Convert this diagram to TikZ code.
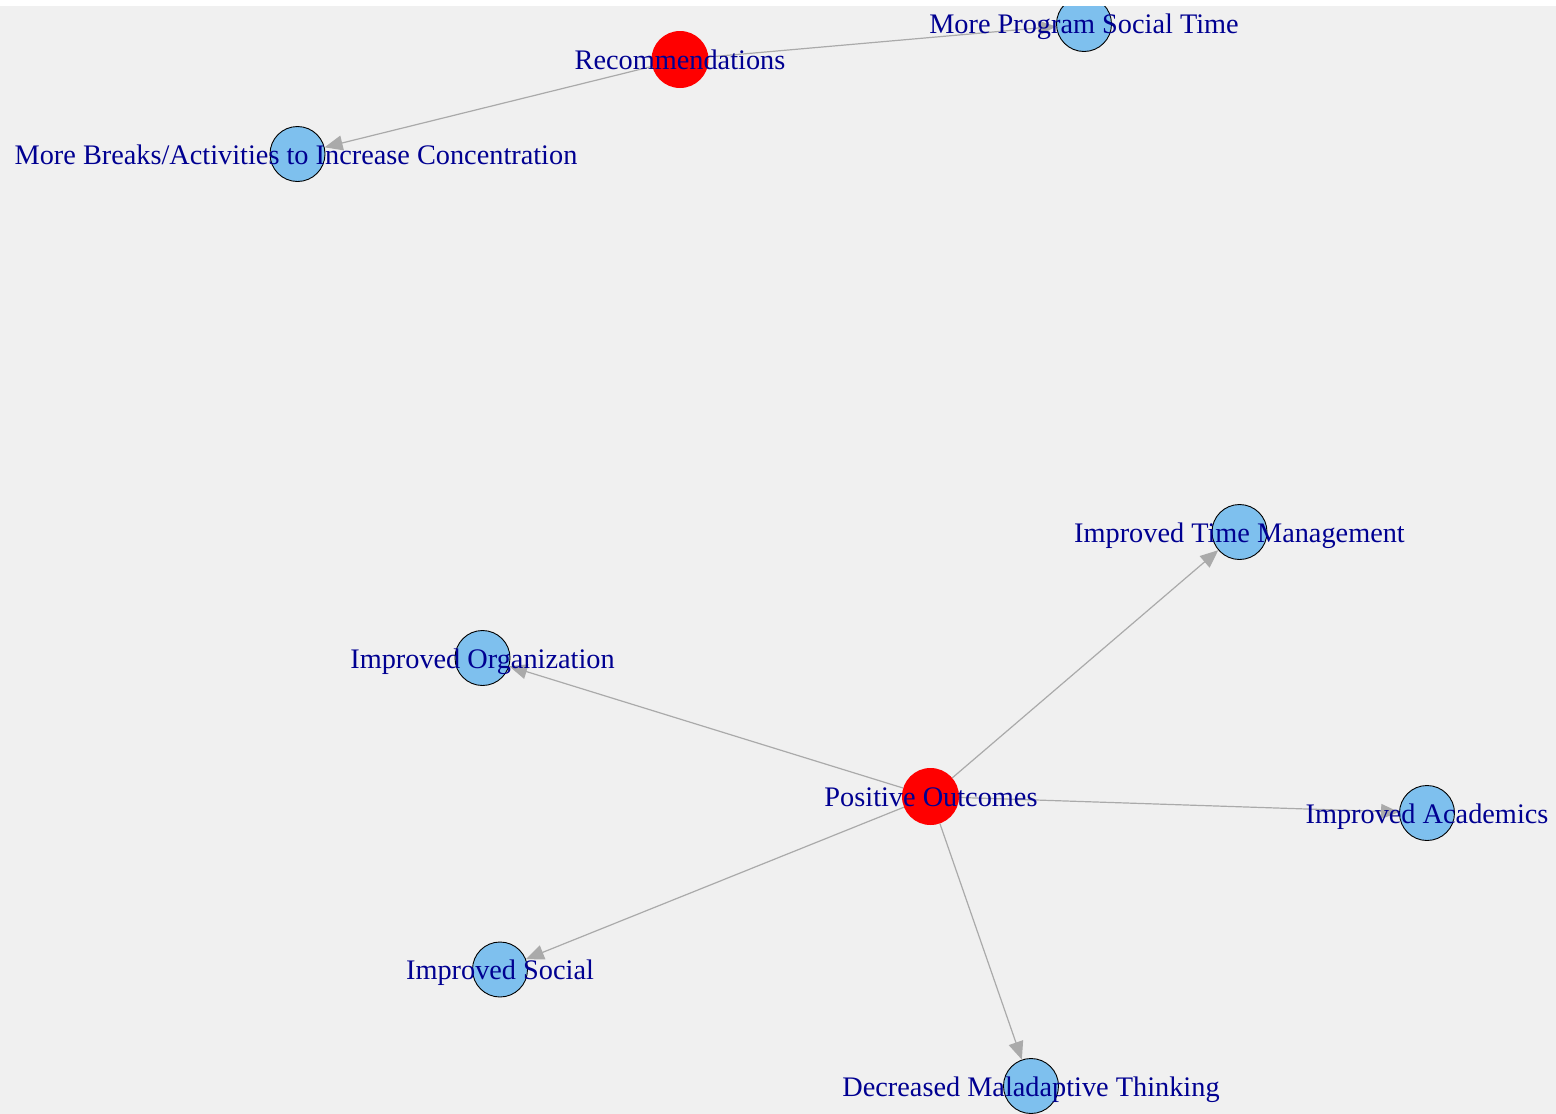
\documentclass[tikz,border=0pt]{standalone}
\usepackage{fontspec}
\setmainfont{Liberation Serif}
\usetikzlibrary{arrows.meta,backgrounds}
\definecolor{bggray}{RGB}{240,240,240}
\definecolor{edgegray}{RGB}{170,170,170}
\definecolor{vblue}{RGB}{126,192,238}
\definecolor{vred}{RGB}{255,0,0}
\definecolor{lblblue}{RGB}{0,0,145}
\begin{document}
\begin{tikzpicture}[x=1pt,y=-1pt,
  leafv/.style={circle,draw=black,line width=0.9pt,fill=vblue,minimum size=55pt,inner sep=0pt},
  hubv/.style={circle,fill=vred,minimum size=57pt,inner sep=0pt},
  lbl/.style={anchor=base,text=lblblue,inner sep=0pt,font=\fontsize{28.3}{30}\selectfont},
  edgearrow/.style={draw=edgegray,line width=1.2pt,-{Triangle[length=18pt,width=15pt,fill=edgegray]}}
]
\useasboundingbox (0,0) rectangle (1556,1114);
\begin{scope}[on background layer]
\fill[white] (0,0) rectangle (1556,1114);
\fill[bggray] (0,6) rectangle (1556,1114);
\end{scope}
\begin{scope}
\clip (0,6) rectangle (1556,1114);
% vertices
\node[hubv] (rec) at (680,59.5) {};
\node[leafv] (mps) at (1084,24) {};
\node[leafv] (mbr) at (297.5,154) {};
\node[hubv] (pos) at (930.5,796.5) {};
\node[leafv] (itm) at (1239.5,532) {};
\node[leafv] (iorg) at (482.5,658) {};
\node[leafv] (iac) at (1427,813) {};
\node[leafv] (isoc) at (500,969.5) {};
\node[leafv] (dmt) at (1031,1086) {};
% labels
\node[lbl] (lrec) at (680,69) {Recommendations};
\node[lbl] (lmps) at (1084,33.5) {More Program Social Time};
\node[lbl] (lmbr) at (296,164) {More Breaks/Activities to Increase Concentration};
\node[lbl] (lpos) at (931,806) {Positive Outcomes};
\node[lbl] (litm) at (1239.5,542) {Improved Time Management};
\node[lbl] (liorg) at (482.5,668) {Improved Organization};
\node[lbl] (liac) at (1427,823) {Improved Academics};
\node[lbl] (lisoc) at (500,979.5) {Improved Social};
\node[lbl] (ldmt) at (1031,1096) {Decreased Maladaptive Thinking};
% edges
\begin{scope}[on background layer]
\clip (0,6) rectangle (1556,1114);
\path[edgearrow] (rec) -- (mps);
\path[edgearrow] (rec) -- (mbr);
\path[edgearrow] (pos) -- (itm);
\path[edgearrow] (pos) -- (iorg);
\path[edgearrow] (pos) -- (iac);
\path[edgearrow] (pos) -- (isoc);
\path[edgearrow] (pos) -- (dmt);
\end{scope}
\end{scope}
\end{tikzpicture}
\end{document}
